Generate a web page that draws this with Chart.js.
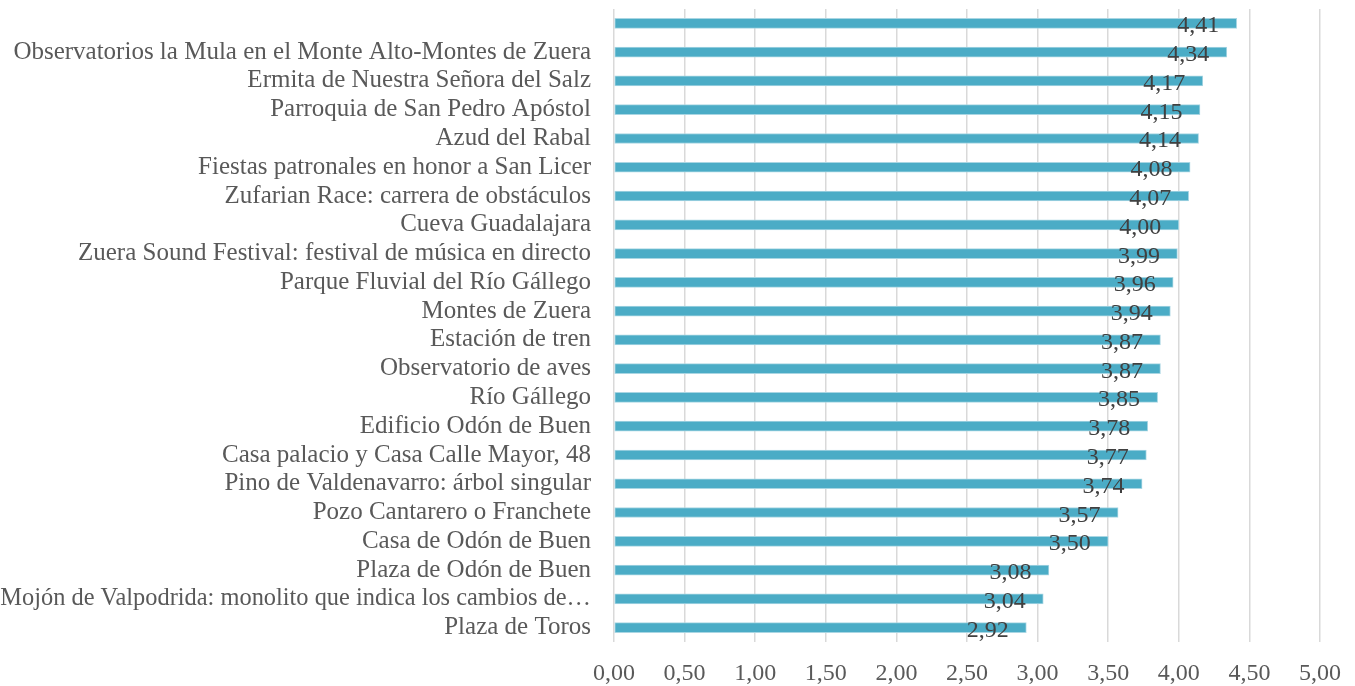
<!DOCTYPE html>
<html><head><meta charset="utf-8">
<script src="https://cdn.jsdelivr.net/npm/chart.js@4/dist/chart.umd.min.js"></script>
<style>html,body{margin:0;padding:0;background:#fff;}canvas{display:block;}</style>
</head><body>
<canvas id="c" width="1355" height="686"></canvas>
<script>
const categories = [
  "",
  "Observatorios la Mula en el Monte Alto-Montes de Zuera",
  "Ermita de Nuestra Señora del Salz",
  "Parroquia de San Pedro Apóstol",
  "Azud del Rabal",
  "Fiestas patronales en honor a San Licer",
  "Zufarian Race: carrera de obstáculos",
  "Cueva Guadalajara",
  "Zuera Sound Festival: festival de música en directo",
  "Parque Fluvial del Río Gállego",
  "Montes de Zuera",
  "Estación de tren",
  "Observatorio de aves",
  "Río Gállego",
  "Edificio Odón de Buen",
  "Casa palacio y Casa Calle Mayor, 48",
  "Pino de Valdenavarro: árbol singular",
  "Pozo Cantarero o Franchete",
  "Casa de Odón de Buen",
  "Plaza de Odón de Buen",
  "Mojón de Valpodrida: monolito que indica los cambios de…",
  "Plaza de Toros"
];
const values = [4.41, 4.34, 4.17, 4.15, 4.14, 4.08, 4.07, 4.00, 3.99, 3.96, 3.94, 3.87, 3.87, 3.85, 3.78, 3.77, 3.74, 3.57, 3.50, 3.08, 3.04, 2.92];
const xTickLabels = ["0,00","0,50","1,00","1,50","2,00","2,50","3,00","3,50","4,00","4,50","5,00"];

const FONT = "'Liberation Serif', serif";

const valueLabels = {
  id: 'valueLabels',
  afterDatasetsDraw(chart) {
    const ctx = chart.ctx;
    const meta = chart.getDatasetMeta(0);
    ctx.save();
    ctx.font = "24px " + FONT;
    ctx.fillStyle = "#404040";
    ctx.textAlign = "right";
    ctx.textBaseline = "alphabetic";
    meta.data.forEach((bar, i) => {
      const txt = values[i].toFixed(2).replace('.', ',');
      ctx.fillText(txt, bar.x - 17.5, bar.y + 9);
    });
    ctx.restore();
  }
};

new Chart(document.getElementById('c'), {
  type: 'bar',
  data: {
    labels: categories,
    datasets: [{
      data: values,
      backgroundColor: '#4BACC6',
      borderColor: '#A9D6E3',
      borderWidth: 1,
      borderSkipped: false,
      barThickness: 10
    }]
  },
  plugins: [valueLabels],
  options: {
    indexAxis: 'y',
    responsive: false,
    animation: false,
    layout: { padding: { top: 9, right: 35, bottom: 0, left: 0 } },
    plugins: { legend: { display: false }, tooltip: { enabled: false } },
    scales: {
      x: {
        min: 0, max: 5,
        ticks: {
          stepSize: 0.5,
          color: '#595959',
          font: { family: FONT, size: 24 },
          padding: 17,
          maxRotation: 0,
          autoSkip: false,
          callback: (v, i) => xTickLabels[i]
        },
        grid: { color: '#D9D9D9', lineWidth: 1.5, drawTicks: false },
        border: { display: false },
        afterFit: (s) => { s.height = 44; s.paddingLeft = 0; s.paddingRight = 0; }
      },
      y: {
        ticks: {
          color: '#595959',
          font: (c) => ({ family: FONT, size: (c.index === 20 ? 24.4 : 25) }),
          padding: 15,
          autoSkip: false
        },
        grid: { display: false },
        border: { display: false },
        afterFit: (s) => { s.width = 614; s.paddingTop = 0; s.paddingBottom = 0; }
      }
    }
  }
});
</script>
</body></html>
